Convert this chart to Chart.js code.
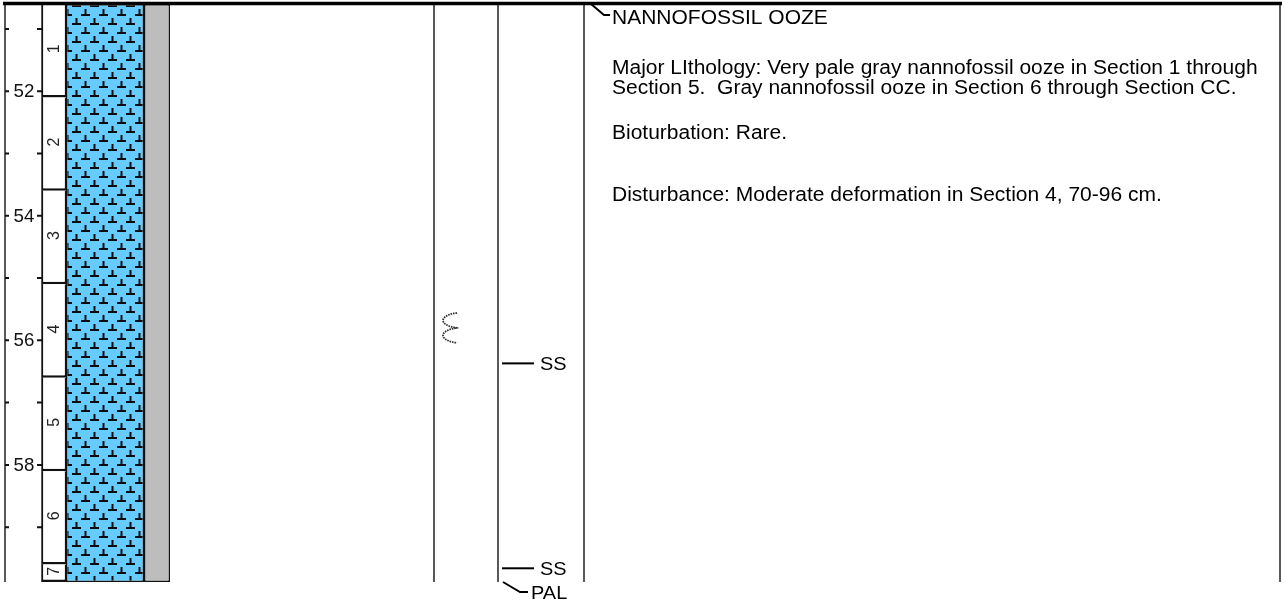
<!DOCTYPE html>
<html><head><meta charset="utf-8">
<script src="https://cdn.jsdelivr.net/npm/chart.js@4/dist/chart.umd.min.js"></script>
<style>html,body{margin:0;padding:0;background:#fff;}#wrap{width:1285px;height:606px;position:relative;}canvas{display:block;}</style>
</head><body><div id="wrap"><canvas id="c" width="1285" height="606"></canvas></div>
<script>
// ---------- DATA ----------
const coreTop = 50.6;
const coreBottom = 59.88;
const sectionNames = ['1', '2', '3', '4', '5', '6', '7'];
const sectionTops = [50.6, 52.1, 53.6, 55.1, 56.6, 58.1, 59.6];
const sectionBottoms = [52.1, 53.6, 55.1, 56.6, 58.1, 59.6, 59.88];
const depthTicks = [51, 52, 53, 54, 55, 56, 57, 58, 59];
const depthTickLabels = ['', '52', '', '54', '', '56', '', '58', ''];
const lithologyNames = ['NANNOFOSSIL OOZE'];
const lithologyTops = [50.6];
const lithologyBottoms = [59.88];
const sampleDepths = [56.37, 59.66];
const sampleCodes = ['SS', 'SS'];
const paleoDepths = [59.88];
const paleoCodes = ['PAL'];
const disturbanceTops = [55.80];
const disturbanceBottoms = [56.06];
const descriptionLines = [
  'Major LIthology: Very pale gray nannofossil ooze in Section 1 through',
  'Section 5.  Gray nannofossil ooze in Section 6 through Section CC.',
  'Bioturbation: Rare.',
  'Disturbance: Moderate deformation in Section 4, 70-96 cm.'
];

// ---------- LAYOUT / STYLE ----------
const W = 1285, H = 606;
const COL = { axisL: 5, secL: 42, secR: 66, lithR: 144, grayR: 170, structL: 434, sampL: 498, descL: 584, right: 1280 };
const descY = [68, 88, 133, 195];
const TEXT_X = 612;
const FONT = '"Liberation Sans", Arial, Helvetica, sans-serif';
const TEXT_SX = 1.05;

function makePattern() {
  const c = document.createElement('canvas');
  c.width = 18; c.height = 18;
  const g = c.getContext('2d');
  g.fillStyle = '#66CCFF'; g.fillRect(0, 0, 18, 18);
  g.fillStyle = '#0d0d0d';
  const sym = (cx, cy) => { g.fillRect(cx - 4, cy + 1, 9, 2); g.fillRect(cx - 0.5, cy - 4, 2, 5); };
  sym(4, 4); sym(13, 13);
  return g.createPattern(c, 'repeat');
}

function stretchedText(ctx, txt, x, y, sx) {
  ctx.save(); ctx.translate(x, y); ctx.scale(sx, 1); ctx.fillText(txt, 0, 0); ctx.restore();
}

const framePlugin = {
  id: 'frame',
  beforeDatasetsDraw(chart) {
    const ctx = chart.ctx, ys = chart.scales.y;
    const top = ys.getPixelForValue(coreTop), bot = ys.getPixelForValue(coreBottom);
    ctx.save();
    ctx.strokeStyle = '#222'; ctx.lineWidth = 1.5;
    [COL.axisL, COL.secL, COL.structL, COL.sampL, COL.descL, COL.right].forEach(x => {
      ctx.beginPath(); ctx.moveTo(x, top); ctx.lineTo(x, bot); ctx.stroke();
    });
    // depth ticks
    ctx.strokeStyle = '#111'; ctx.lineWidth = 2;
    ctx.fillStyle = '#111'; ctx.font = '18px ' + FONT; ctx.textAlign = 'center'; ctx.textBaseline = 'middle';
    depthTicks.forEach((d, i) => {
      const y = ys.getPixelForValue(d);
      ctx.beginPath(); ctx.moveTo(COL.axisL, y); ctx.lineTo(COL.axisL + 4, y);
      ctx.moveTo(COL.secL - 5, y); ctx.lineTo(COL.secL, y); ctx.stroke();
      if (depthTickLabels[i]) stretchedText(ctx, depthTickLabels[i], (COL.axisL + COL.secL) / 2 + 0.5, y + 1, 1.04);
    });
    ctx.restore();
  },
  afterDatasetsDraw(chart) {
    const ctx = chart.ctx, ys = chart.scales.y;
    ctx.save();
    // top line
    ctx.strokeStyle = '#000'; ctx.lineWidth = 3.5;
    ctx.beginPath(); ctx.moveTo(3, 3.5); ctx.lineTo(1282, 3.5); ctx.stroke();
    // section labels
    ctx.fillStyle = '#222'; ctx.font = '16px ' + FONT; ctx.textAlign = 'center'; ctx.textBaseline = 'middle';
    sectionNames.forEach((s, i) => {
      const y0 = ys.getPixelForValue(sectionTops[i]), y1 = ys.getPixelForValue(sectionBottoms[i]);
      ctx.save(); ctx.beginPath(); ctx.rect(COL.secL, y0, COL.secR - COL.secL, y1 - y0); ctx.clip();
      ctx.translate((COL.secL + COL.secR) / 2 + 1, (y0 + y1) / 2 - 2); ctx.rotate(-Math.PI / 2);
      ctx.fillText(s, 0, 0); ctx.restore();
    });
    // sample labels
    ctx.fillStyle = '#000'; ctx.font = '19px ' + FONT; ctx.textAlign = 'left';
    const meta = chart.getDatasetMeta(3);
    meta.data.forEach((pt, i) => { stretchedText(ctx, sampleCodes[i], pt.x + 22, pt.y + 1, TEXT_SX); });
    // paleo leader
    ctx.strokeStyle = '#000'; ctx.lineWidth = 2;
    paleoDepths.forEach((d, i) => {
      const y = ys.getPixelForValue(d);
      ctx.beginPath(); ctx.moveTo(COL.sampL + 5, y); ctx.lineTo(COL.sampL + 22, y + 10); ctx.lineTo(COL.sampL + 30, y + 10); ctx.stroke();
      stretchedText(ctx, paleoCodes[i], COL.sampL + 33, y + 12, TEXT_SX);
    });
    // lithology leader + name
    ctx.font = '20px ' + FONT;
    lithologyNames.forEach((n, i) => {
      const y = ys.getPixelForValue(lithologyTops[i]);
      ctx.beginPath(); ctx.moveTo(COL.descL + 7, y); ctx.lineTo(COL.descL + 20, y + 11); ctx.lineTo(TEXT_X - 2, y + 11); ctx.stroke();
      stretchedText(ctx, n, TEXT_X, y + 14, TEXT_SX);
    });
    // description
    descriptionLines.forEach((t, i) => stretchedText(ctx, t, TEXT_X, descY[i], TEXT_SX));
    // disturbance symbol
    ctx.strokeStyle = '#333'; ctx.lineWidth = 1.8; ctx.setLineDash([1.6, 0.9]);
    disturbanceTops.forEach((d) => {
      const yc = ys.getPixelForValue(d);
      const y0 = yc - 15, y1 = yc + 15, xc = COL.structL + 16;
      ctx.beginPath();
      for (let k = 0; k <= 120; k++) {
        const t = k / 120;
        const x = xc + 7 * Math.cos(2 * Math.PI * 2 * t);
        const y = y0 + (y1 - y0) * t - 2.2 * Math.sin(2 * Math.PI * 2 * t);
        if (k === 0) ctx.moveTo(x, y); else ctx.lineTo(x, y);
      }
      ctx.stroke();
    });
    ctx.restore();
  }
};

const secCenter = (COL.secL + COL.secR) / 2;
const lithCenter = (COL.secR + COL.lithR) / 2;
const grayCenter = (COL.lithR + COL.grayR) / 2;

new Chart(document.getElementById('c'), {
  type: 'bar',
  data: {
    datasets: [
      {
        label: 'Sections',
        data: sectionNames.map((s, i) => ({ x: secCenter, y: [sectionTops[i], sectionBottoms[i]] })),
        backgroundColor: '#fff', borderColor: '#111',
        borderWidth: { top: 0, bottom: 2.5, left: 1.3, right: 1.3 },
        borderSkipped: false, barThickness: COL.secR - COL.secL, grouped: false, inflateAmount: 0
      },
      {
        label: 'Lithology',
        data: lithologyNames.map((n, i) => ({ x: lithCenter, y: [lithologyTops[i], lithologyBottoms[i]] })),
        backgroundColor: makePattern(), borderColor: '#111', borderWidth: 1.5,
        borderSkipped: false, barThickness: COL.lithR - COL.secR, grouped: false, inflateAmount: 0
      },
      {
        label: 'Color',
        data: [{ x: grayCenter, y: [coreTop, coreBottom] }],
        backgroundColor: '#BDBDBD', borderColor: '#111', borderWidth: 1.5,
        borderSkipped: false, barThickness: COL.grayR - COL.lithR, grouped: false, inflateAmount: 0
      },
      {
        type: 'scatter', label: 'Samples',
        data: sampleDepths.map(d => ({ x: COL.sampL + 20, y: d })),
        pointStyle: 'line', pointRadius: 16, pointHoverRadius: 16, borderColor: '#000', borderWidth: 2
      }
    ]
  },
  options: {
    responsive: false, animation: false, devicePixelRatio: 1,
    layout: { autoPadding: false, padding: { top: 4, bottom: 24, left: 0, right: 0 } },
    scales: {
      x: { type: 'linear', min: 0, max: W, display: false, offset: false },
      y: { type: 'linear', min: coreTop, max: coreBottom, reverse: true, display: false, offset: false }
    },
    plugins: { legend: { display: false }, tooltip: { enabled: false } },
    events: []
  },
  plugins: [framePlugin]
});
</script></body></html>
